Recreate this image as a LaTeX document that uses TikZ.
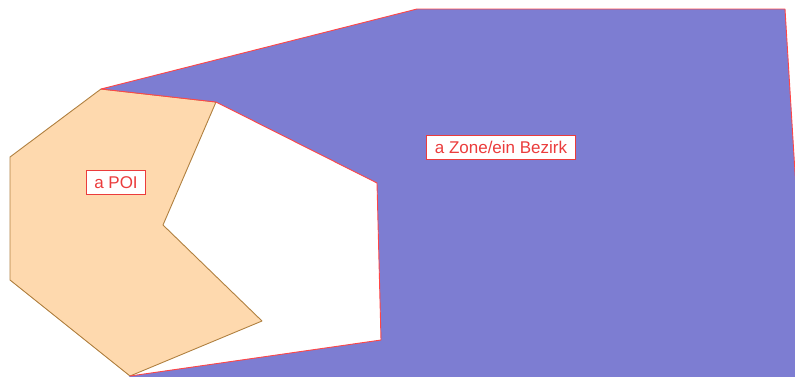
\documentclass[tikz,border=0pt]{standalone}
\usepackage{fontspec}
\setmainfont{Liberation Sans}
\usepackage{tikz}
\usetikzlibrary{positioning}
\definecolor{colZone}{RGB}{125,125,210}
\definecolor{colZoneLine}{RGB}{255,70,70}
\definecolor{colPOI}{RGB}{254,217,174}
\definecolor{colPOILine}{RGB}{176,128,64}
\definecolor{colLabel}{RGB}{235,60,60}
\tikzset{
  zone/.style    = {fill=colZone},
  zoneline/.style= {draw=colZoneLine, line width=0.9pt, line join=round},
  poi/.style     = {fill=colPOI, draw=colPOILine, line width=0.9pt, line join=round},
  tag/.style     = {rectangle, draw=colLabel, fill=white, text=colLabel,
                    line width=0.9pt, inner xsep=8pt, inner ysep=0pt,
                    minimum height=24pt, font=\fontsize{17}{19}\selectfont},
}
\begin{document}
\begin{tikzpicture}[x=1pt, y=-1pt]
\useasboundingbox (0,0) rectangle (795,376);
\clip (0,0) rectangle (795,376);

%% corners shared by both areas
\coordinate (top)   at (101,89);
\coordinate (notch) at (216,102);
\coordinate (foot)  at (130,376);

%% the POI
\coordinate (poi_in)  at (163,225);
\coordinate (poi_tip) at (262,321);
\coordinate (poi_bl)  at (10,280);
\coordinate (poi_tl)  at (10,157);
\fill[poi] (top) -- (notch) -- (poi_in) -- (poi_tip) -- (foot)
           -- (poi_bl) -- (poi_tl) -- cycle;

%% the zone
\coordinate (z_n)  at (417,9);
\coordinate (z_ne) at (785,9);
\coordinate (z_se) at (808,385);
\coordinate (z_sw) at (120,385);
\coordinate (z_br) at (381,340);
\coordinate (z_tr) at (377,183);
\fill[zone] (top) -- (z_n) -- (z_ne) -- (z_se) -- (z_sw) -- (foot)
            -- (z_br) -- (z_tr) -- (notch) -- cycle;
\draw[zoneline] (foot) -- (z_br) -- (z_tr) -- (notch) -- (top)
                -- (z_n) -- (z_ne) -- (z_se);

%% labels
\node[tag] (poi_lbl)  at (116,182.5) {a POI};
\node[tag] (zone_lbl) at (501,147.5) {a Zone/ein Bezirk};

\end{tikzpicture}
\end{document}
